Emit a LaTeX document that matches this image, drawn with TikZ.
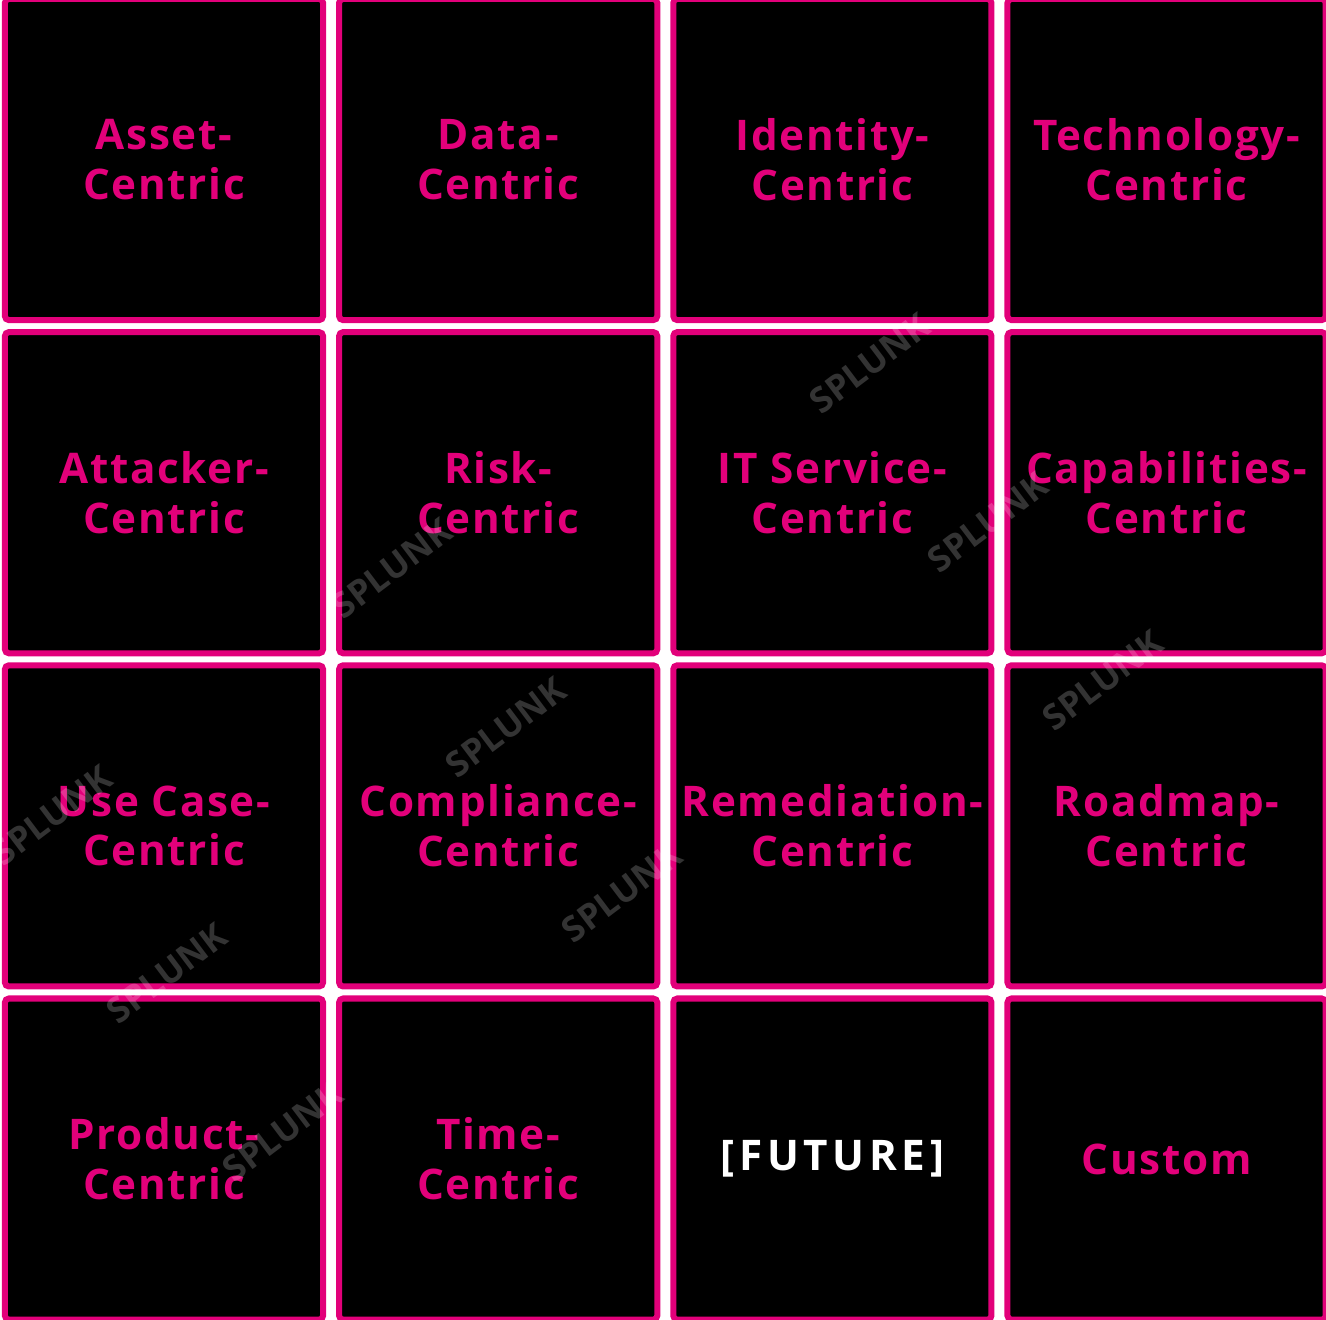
\documentclass[tikz,border=0pt]{standalone}
\usepackage{fontspec}
\setmainfont{Open Sans}
\newfontfamily\tilefont[LetterSpace=4]{Open Sans}
\newfontfamily\futurefont[LetterSpace=11]{Open Sans}
\usetikzlibrary{positioning}
\definecolor{tilepink}{HTML}{E2007A}
\tikzset{
  tile/.style   = {draw=tilepink, fill=black, line width=0.06cm,
                   rounded corners=0.04cm, inner sep=0pt, align=center,
                   minimum width=3.18cm, minimum height=3.21cm,
                   text=tilepink, font=\tilefont\bfseries\fontsize{12}{14.2}\selectfont},
  future/.style = {tile, text=white, font=\futurefont\bfseries\fontsize{12}{14.2}\selectfont},
  stamp/.style  = {text=white, opacity=0.2, rotate=37, inner sep=0pt,
                   font=\bfseries\fontsize{10}{12}\selectfont},
}

\begin{document}
\begin{tikzpicture}[x=0.01cm, y=-0.01cm, node distance=0.1cm and 0.1cm]

\useasboundingbox[fill=white] (0,0) rectangle (1326,1320);

% first row
\node[tile] (c11) at (164,159.5) {Asset-\\Centric};
\node[tile, right=of c11] (c12) {Data-\\Centric};
\node[tile, right=of c12] (c13) {Identity-\\Centric};
\node[tile, right=of c13] (c14) {Technology-\\Centric};

% second row
\node[tile, below=0.06cm of c11] (c21) {Attacker-\\Centric};
\node[tile, right=of c21] (c22) {Risk-\\Centric};
\node[tile, right=of c22] (c23) {IT Service-\\Centric};
\node[tile, right=of c23] (c24) {Capabilities-\\Centric};

% third row
\node[tile, below=0.06cm of c21] (c31) {Use Case-\\Centric};
\node[tile, right=of c31] (c32) {Compliance-\\Centric};
\node[tile, right=of c32] (c33) {Remediation-\\Centric};
\node[tile, right=of c33] (c34) {Roadmap-\\Centric};

% fourth row
\node[tile, below=0.06cm of c31] (c41) {Product-\\Centric};
\node[tile, right=of c41] (c42) {Time-\\Centric};
\node[future, right=of c42] (c43) {[FUTURE]};
\node[tile, right=of c43] (c44) {Custom};

% watermark stamps
\foreach \x/\y [count=\i] in {870/363, 988/522, 392/568, 1103/680, 506/727,
                             622/892, 52/815, 167/973, 283/1131}
  \node[stamp] (wm\i) at (\x,\y) {SPLUNK};

\end{tikzpicture}
\end{document}
